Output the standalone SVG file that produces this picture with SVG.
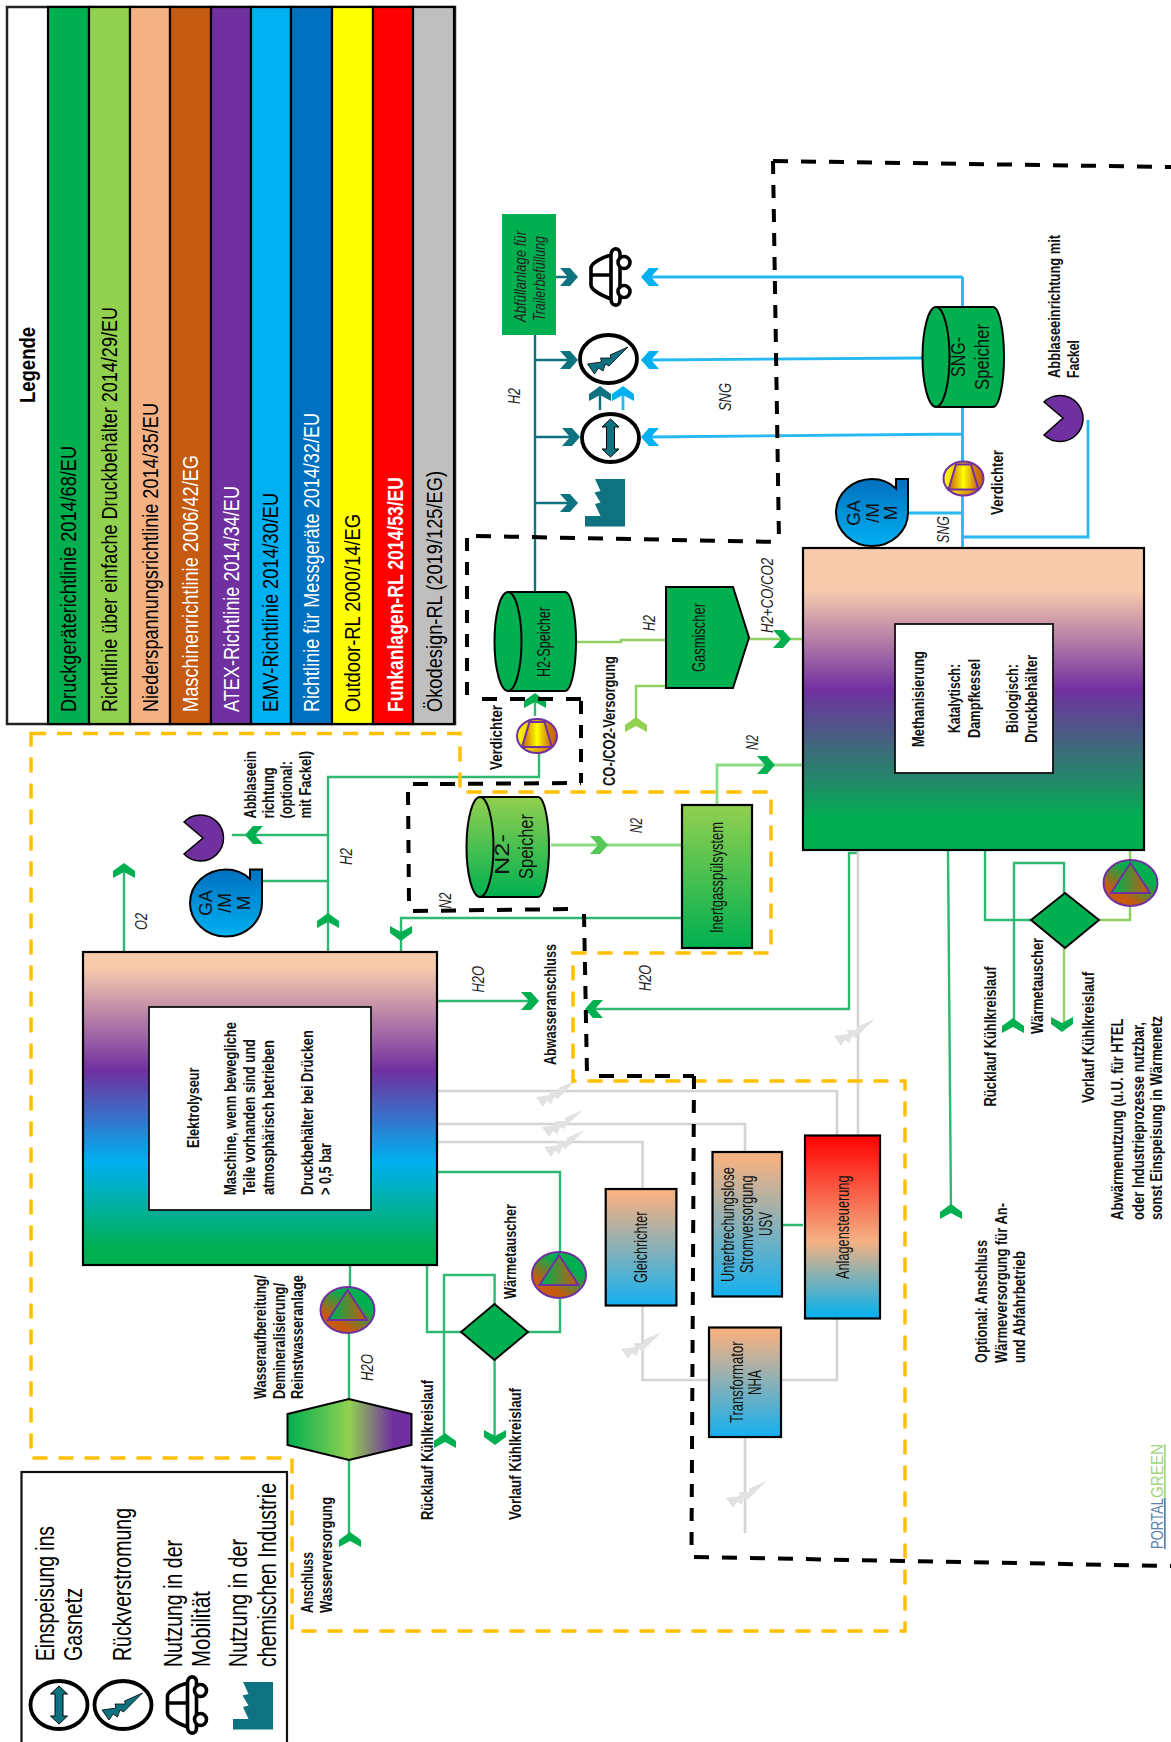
<svg xmlns="http://www.w3.org/2000/svg" xmlns:xlink="http://www.w3.org/1999/xlink" width="1171" height="1742" viewBox="0 0 1171 1742">
<style>
text{font-family:"Liberation Sans",Arial,sans-serif;fill:#000}
.l{font-size:22px}.lw{font-size:22px;fill:#fff}
.g{font-size:25px}
.b{font-size:16px;font-weight:bold;fill:#111}
.i{font-size:16px;font-style:italic;fill:#222}
.n{font-size:17.500px;fill:#111}
.c{font-size:21px;fill:#111}
.line,.teal,.sky,.lime,.grey,.mint{fill:none;stroke-width:2.4}
.line{stroke:#2EB873}.teal{stroke:#0E7280}.sky{stroke:#25B8F2;stroke-width:2.8}.lime{stroke:#8FD060}.mint{stroke:#8ADC86;stroke-width:2.800}.grey{stroke:#D4D4D4;stroke-width:2.6}
.bk{fill:none;stroke:#000;stroke-width:4}
.h{stroke-dasharray:15 13}.v{stroke-dasharray:13 11}
.or{fill:none;stroke:#FFC000;stroke-width:3.5;stroke-dasharray:15 11}
.box{stroke:#000;stroke-width:2.2}
.pm{stroke:#7030A0;stroke-width:2}
</style>
<defs>
<linearGradient id="gEl" x1="0" y1="0" x2="0" y2="1"><stop offset="0.05" stop-color="#F8CBAD"/><stop offset="0.38" stop-color="#7030A0"/><stop offset="0.67" stop-color="#00B0F0"/><stop offset="0.95" stop-color="#00B050"/></linearGradient>
<linearGradient id="gMe" x1="0" y1="0" x2="0" y2="1"><stop offset="0.14" stop-color="#F8CBAD"/><stop offset="0.47" stop-color="#7030A0"/><stop offset="0.9" stop-color="#00B050"/></linearGradient>
<linearGradient id="gN" x1="0" y1="0" x2="0" y2="1"><stop offset="0" stop-color="#92D050"/><stop offset="1" stop-color="#00B050"/></linearGradient>
<linearGradient id="gBl" x1="0" y1="0" x2="0" y2="1"><stop offset="0" stop-color="#0070C0"/><stop offset="1" stop-color="#00B0F0"/></linearGradient>
<linearGradient id="gOB" x1="0" y1="0" x2="0" y2="1"><stop offset="0.05" stop-color="#F4B183"/><stop offset="1" stop-color="#14B0F0"/></linearGradient>
<linearGradient id="gAn" x1="0" y1="0" x2="0" y2="1"><stop offset="0" stop-color="#FF0000"/><stop offset="0.58" stop-color="#F4B183"/><stop offset="1" stop-color="#00B0F0"/></linearGradient>
<linearGradient id="gHx" x1="0" y1="0" x2="1" y2="0"><stop offset="0" stop-color="#00B050"/><stop offset="0.5" stop-color="#92D050"/><stop offset="0.85" stop-color="#7030A0"/></linearGradient>
<linearGradient id="gVa" x1="0" y1="0" x2="1" y2="0"><stop offset="0" stop-color="#FFFF00"/><stop offset="1" stop-color="#C55A11"/></linearGradient>
<linearGradient id="gVb" x1="0" y1="0" x2="1" y2="0"><stop offset="0" stop-color="#C55A11"/><stop offset="0.5" stop-color="#FFFF00"/><stop offset="1" stop-color="#C55A11"/></linearGradient>
<linearGradient id="gPa" x1="0.8" y1="0.2" x2="0.3" y2="0.9"><stop offset="0.2" stop-color="#00B050"/><stop offset="0.85" stop-color="#C55A11"/></linearGradient>
<linearGradient id="gPb" x1="0" y1="0" x2="1" y2="0"><stop offset="0.1" stop-color="#00B050"/><stop offset="0.95" stop-color="#C55A11"/></linearGradient>
<path id="cU" d="M0,0 L11,8 V15 L0,9 L-11,15 V8 Z"/>
<path id="cD" d="M0,0 L11,-8 V-15 L0,-9 L-11,-15 V-8 Z"/>
<path id="cR" d="M0,0 L-8,9 H-18 L-10,0 L-18,-9 H-8 Z"/>
<path id="cL" d="M0,0 L8,9 H18 L10,0 L18,-9 H8 Z"/>
<path id="bolt" d="M19.500,-12 L1.500,-4 L2.500,-1 L-8,-1 L-7,3 L-21,5 L-14,15 L-10,9 L-5.500,12 L-3,5 L0.500,7 Z"/>
<g id="car" fill="none" stroke="#000" stroke-width="3.600"><path d="M0,-22 C-8,-20 -20,-14 -20,-9 V8 C-20,13 -8,19 0,22 M-20,-2 H1 M0,-22 C0,-30 9,-30 9,-23 V23 C9,30 0,30 0,22 Z"/><circle cx="13" cy="-14.500" r="6" fill="#fff"/><circle cx="13" cy="14.500" r="6" fill="#fff"/></g>
<g id="gasnet"><ellipse rx="28.500" ry="24" fill="#fff" stroke="#000" stroke-width="3.800"/><path d="M0,-19 L8.500,-11 H4 V11 H8.500 L0,19 L-8.500,11 H-4 V-11 H-8.500 Z" fill="#0E7280" stroke="#000" stroke-width="1"/></g>
<g id="power"><ellipse rx="28.500" ry="24" fill="#fff" stroke="#000" stroke-width="3.800"/><use xlink:href="#bolt" fill="#0E7280" stroke="#000" stroke-width="0.800"/></g>
<path id="factory" fill="#0E7280" d="M10,0 L15.500,12 L9.500,13.500 L15.500,23.500 L10,25 L15.500,37 H0 V47.500 H40 V0 Z"/>
<g id="verd"><ellipse rx="20" ry="17" fill="url(#gVa)" class="pm"/><path d="M-7.500,-14 H7.500 L15,11 H-15 Z" fill="url(#gVb)" class="pm"/></g>
<g id="pump"><ellipse rx="27" ry="23" fill="url(#gPa)" class="pm"/><path d="M0,-20 L19.500,10 H-19.500 Z" fill="url(#gPb)" class="pm"/></g>
<g id="blower"><path d="M24,-33.500 H36 V0 A36,33.500 0 1 1 0,-33.500 Q14,-33.500 24,-24 Z" fill="url(#gBl)" stroke="#000" stroke-width="2"/></g>
</defs>

<g id="connectors">
<path class="teal" d="M535,335 V592 M556,277 H570 M535,360 H572 M535,437 H574 M535,503 H572 M600,410 V392"/>
<path class="sky" d="M962.500,277 V548 M962.500,277 H648 M922,358 L648,360 M962.500,434 L648,437 M623,410 V392 M1088,420 V537 H962.500 M909,513 H962.500"/>
<path class="line" d="M539,753 V777 H328 V952 M535,716 V695 M328,835 H232 M328,881 H262 M124,952 V870 M682,918 H401 V952 M437,1001 H530 M858,853 H849 V1009 H592 M948,850 L951,1210 M985,850 V920 H1032 M1014,1024 V863 H1064 V893 M437,1172 H560 V1252 M560,1299 V1332 H528 M427,1265 V1332 H461 M444,1440 V1275 H494.600 V1304 M494.600,1360 V1437 M350,1265 V1288 M349,1333 V1399 M349,1460 V1538 M782,1225 H803"/>
<path class="lime" d="M577,642 H621 V640 H666 M749,639 H803 M666,686 H636 V726 M1064,948 V1024 M1099,920 H1130 V906 M1130,850 V860"/>
<path class="mint" d="M551,845 H682 M717,805 V765 H803"/>
<path class="grey" d="M858,850 V1136 M437,1091 H837 V1136 M437,1124 H745 V1152 M437,1142 H642.500 V1189 M642.500,1305 V1380 H709 M781,1380 H837 V1318 M745,1437 V1533"/>
<g fill="#0E7280"><use xlink:href="#cR" x="578" y="277"/><use xlink:href="#cR" x="578" y="360"/><use xlink:href="#cR" x="580" y="437"/><use xlink:href="#cR" x="578" y="503"/><use xlink:href="#cU" x="600" y="386"/></g>
<g fill="#00B0F0"><use xlink:href="#cL" x="641" y="277"/><use xlink:href="#cL" x="641" y="360"/><use xlink:href="#cL" x="641" y="437"/><use xlink:href="#cU" x="623" y="386"/></g>
<g fill="#00B050"><use xlink:href="#cU" x="124" y="863"/><use xlink:href="#cU" x="328" y="913"/><use xlink:href="#cL" x="245" y="835"/><use xlink:href="#cD" x="401" y="941"/><use xlink:href="#cR" x="539" y="1001"/><use xlink:href="#cU" x="535" y="693"/><use xlink:href="#cR" x="791" y="639"/><use xlink:href="#cR" x="775" y="765"/><use xlink:href="#cL" x="585" y="1009"/><use xlink:href="#cU" x="951" y="1204"/><use xlink:href="#cU" x="1013" y="1018"/><use xlink:href="#cD" x="1062" y="1032"/><use xlink:href="#cU" x="445" y="1433"/><use xlink:href="#cD" x="495" y="1445"/><use xlink:href="#cU" x="350" y="1532"/></g>
<use xlink:href="#cR" x="608" y="845" fill="#56C856"/>
<use xlink:href="#cU" x="636" y="717" fill="#92D050"/>
<g fill="#E2E2E2"><use xlink:href="#bolt" x="855" y="1031"/><use xlink:href="#bolt" x="557" y="1092"/><use xlink:href="#bolt" x="563" y="1122"/><use xlink:href="#bolt" x="565" y="1142"/><use xlink:href="#bolt" x="642" y="1344"/><use xlink:href="#bolt" x="747" y="1493"/></g>
</g>

<g id="legend-top">
<rect x="7" y="7" width="448" height="717" fill="#fff" stroke="#222" stroke-width="2.500"/>
<g class="box">
<rect x="48" y="7" width="41" height="717" fill="#00B050"/><rect x="89" y="7" width="41" height="717" fill="#92D050"/><rect x="130" y="7" width="40" height="717" fill="#F4B183"/><rect x="170" y="7" width="41" height="717" fill="#C55A11"/><rect x="211" y="7" width="40" height="717" fill="#7030A0"/><rect x="251" y="7" width="40" height="717" fill="#00B0F0"/><rect x="291" y="7" width="41" height="717" fill="#0070C0"/><rect x="332" y="7" width="41" height="717" fill="#FFFF00"/><rect x="373" y="7" width="40" height="717" fill="#FF0000"/><rect x="413" y="7" width="41" height="717" fill="#BFBFBF"/>
</g>
<text class="l" font-weight="bold" transform="translate(35,403) rotate(-90)" textLength="76" lengthAdjust="spacingAndGlyphs">Legende</text>
<text class="l" transform="translate(76,712) rotate(-90)" textLength="266" lengthAdjust="spacingAndGlyphs">Druckgeräterichtlinie 2014/68/EU</text>
<text class="l" transform="translate(117,712) rotate(-90)" textLength="405" lengthAdjust="spacingAndGlyphs">Richtlinie über einfache Druckbehälter 2014/29/EU</text>
<text class="l" transform="translate(158,712) rotate(-90)" textLength="309" lengthAdjust="spacingAndGlyphs">Niederspannungsrichtlinie 2014/35/EU</text>
<text class="lw" transform="translate(198,712) rotate(-90)" textLength="257" lengthAdjust="spacingAndGlyphs">Maschinenrichtlinie 2006/42/EG</text>
<text class="lw" transform="translate(239,712) rotate(-90)" textLength="226" lengthAdjust="spacingAndGlyphs">ATEX-Richtlinie 2014/34/EU</text>
<text class="l" transform="translate(278,712) rotate(-90)" textLength="219" lengthAdjust="spacingAndGlyphs">EMV-Richtlinie 2014/30/EU</text>
<text class="lw" transform="translate(319,712) rotate(-90)" textLength="299" lengthAdjust="spacingAndGlyphs">Richtlinie für Messgeräte 2014/32/EU</text>
<text class="l" transform="translate(360,712) rotate(-90)" textLength="198" lengthAdjust="spacingAndGlyphs">Outdoor-RL 2000/14/EG</text>
<text class="lw" font-weight="bold" transform="translate(403,712) rotate(-90)" textLength="235" lengthAdjust="spacingAndGlyphs">Funkanlagen-RL 2014/53/EU</text>
<text class="l" fill="#222" transform="translate(442,712) rotate(-90)" textLength="241" lengthAdjust="spacingAndGlyphs">Ökodesign-RL (2019/125/EG)</text>
</g>

<g id="legend-bottom">
<rect x="21.500" y="1472" width="265.500" height="290" fill="#fff" stroke="#111" stroke-width="2.200"/>
<use xlink:href="#gasnet" x="59" y="1705"/><use xlink:href="#power" x="123" y="1705"/><use xlink:href="#car" x="187.500" y="1705"/><use xlink:href="#factory" x="233" y="1682"/>
<text class="g" transform="translate(53.500,1661) rotate(-90)" textLength="135" lengthAdjust="spacingAndGlyphs">Einspeisung ins</text>
<text class="g" transform="translate(82,1661) rotate(-90)" textLength="73" lengthAdjust="spacingAndGlyphs">Gasnetz</text>
<text class="g" transform="translate(131,1661) rotate(-90)" textLength="153" lengthAdjust="spacingAndGlyphs">Rückverstromung</text>
<text class="g" transform="translate(182,1667) rotate(-90)" textLength="127" lengthAdjust="spacingAndGlyphs">Nutzung in der</text>
<text class="g" transform="translate(210,1667) rotate(-90)" textLength="76" lengthAdjust="spacingAndGlyphs">Mobilität</text>
<text class="g" transform="translate(247,1667) rotate(-90)" textLength="128" lengthAdjust="spacingAndGlyphs">Nutzung in der</text>
<text class="g" transform="translate(276,1667) rotate(-90)" textLength="184" lengthAdjust="spacingAndGlyphs">chemischen Industrie</text>
</g>

<g id="node-abfuell"><rect x="502" y="214" width="54" height="121" fill="#00B050"/>
<text class="i" transform="translate(526,322) rotate(-90)" textLength="91" lengthAdjust="spacingAndGlyphs">Abfüllanlage  für</text>
<text class="i" transform="translate(545,321) rotate(-90)" textLength="85" lengthAdjust="spacingAndGlyphs">Trailerbefüllung</text></g>
<use id="node-car" xlink:href="#car" x="611" y="277"/>
<use id="node-power" xlink:href="#power" x="608.500" y="359"/>
<use id="node-gasnet" xlink:href="#gasnet" x="610.500" y="438"/>
<use id="node-factory" xlink:href="#factory" x="585" y="479"/>

<g id="node-sng-speicher"><path d="M936,307 H993 A11,50 0 0 1 993,407 H936 A13.500,50 0 0 1 936,307 A13.500,50 0 0 1 936,407" fill="#00B050" stroke="#000" stroke-width="2"/>
<text class="c" transform="translate(965,377) rotate(-90)" textLength="40" lengthAdjust="spacingAndGlyphs">SNG-</text>
<text class="c" transform="translate(989,390) rotate(-90)" textLength="66" lengthAdjust="spacingAndGlyphs">Speicher</text></g>
<g id="node-verdichter-2"><use xlink:href="#verd" x="963.500" y="478.500"/><text class="b" transform="translate(1003,515) rotate(-90)" textLength="65" lengthAdjust="spacingAndGlyphs">Verdichter</text></g>
<g id="node-blower-2"><use xlink:href="#blower" x="872" y="512.500"/>
<text class="n" text-anchor="middle" transform="translate(860,513) rotate(-90)">GA</text><text class="n" text-anchor="middle" transform="translate(879,513) rotate(-90)">/M</text><text class="n" text-anchor="middle" transform="translate(897,513) rotate(-90)">M</text></g>
<g id="node-flare-2"><path d="M1044,402 L1063,418 L1044,435 A23,23 0 1 0 1044,402 Z" fill="#7030A0" stroke="#000" stroke-width="1.500"/>
<text class="b" transform="translate(1060,378) rotate(-90)" textLength="143" lengthAdjust="spacingAndGlyphs">Abblaseeinrichtung mit</text>
<text class="b" transform="translate(1079,378) rotate(-90)" textLength="38" lengthAdjust="spacingAndGlyphs">Fackel</text></g>

<g id="node-methan"><rect x="803" y="548" width="341" height="302" fill="url(#gMe)" class="box"/>
<rect x="895" y="624" width="158" height="149" fill="#fff" stroke="#111" stroke-width="1.800"/>
<text class="b" transform="translate(924,747) rotate(-90)" textLength="96" lengthAdjust="spacingAndGlyphs">Methanisierung</text>
<text class="b" transform="translate(960,733) rotate(-90)" textLength="69" lengthAdjust="spacingAndGlyphs">Katalytisch:</text>
<text class="b" transform="translate(980,738) rotate(-90)" textLength="79" lengthAdjust="spacingAndGlyphs">Dampfkessel</text>
<text class="b" transform="translate(1018,733) rotate(-90)" textLength="69" lengthAdjust="spacingAndGlyphs">Biologisch:</text>
<text class="b" transform="translate(1037,743) rotate(-90)" textLength="88" lengthAdjust="spacingAndGlyphs">Druckbehälter</text></g>

<g id="node-h2-speicher"><path d="M508,592 H565 A11,49.500 0 0 1 565,691 H508 A13.500,49.500 0 0 1 508,592 A13.500,49.500 0 0 1 508,691" fill="#00B050" stroke="#000" stroke-width="2"/>
<text class="n" transform="translate(550,677) rotate(-90)" textLength="70" lengthAdjust="spacingAndGlyphs">H2-Speicher</text></g>
<g id="node-verdichter-1"><use xlink:href="#verd" x="537" y="736"/><text class="b" transform="translate(502,770) rotate(-90)" textLength="65" lengthAdjust="spacingAndGlyphs">Verdichter</text></g>
<g id="node-gasmischer"><path d="M666,587 H733 L749,637.500 L733,688 H666 Z" fill="#00B050" stroke="#000" stroke-width="2"/>
<text class="n" transform="translate(705,672) rotate(-90)" textLength="69" lengthAdjust="spacingAndGlyphs">Gasmischer</text></g>
<g id="node-n2-speicher"><path d="M480,797 H538 A11,50 0 0 1 538,897 H480 A13.500,50 0 0 1 480,797 A13.500,50 0 0 1 480,897" fill="url(#gN)" stroke="#000" stroke-width="2"/>
<text class="c" transform="translate(509,875) rotate(-90)" textLength="41" lengthAdjust="spacingAndGlyphs">N2-</text>
<text class="c" transform="translate(532.500,879) rotate(-90)" textLength="65" lengthAdjust="spacingAndGlyphs">Speicher</text></g>
<g id="node-inert"><rect x="682" y="805" width="70" height="143" fill="url(#gN)" class="box"/>
<text class="n" transform="translate(723,933) rotate(-90)" textLength="111" lengthAdjust="spacingAndGlyphs">Inertgasspülsystem</text></g>

<g id="node-ww-oben"><path d="M1031,920 L1065,893 L1099,920 L1065,948 Z" fill="#00B050" stroke="#000" stroke-width="2"/>
<use xlink:href="#pump" x="1130.500" y="883"/>
<text class="b" transform="translate(1043,1034) rotate(-90)" textLength="96" lengthAdjust="spacingAndGlyphs">Wärmetauscher</text></g>

<g id="node-elektrolyseur"><rect x="83" y="952" width="354" height="313" fill="url(#gEl)" class="box"/>
<rect x="149" y="1007" width="222" height="203" fill="#fff" stroke="#111" stroke-width="1.800"/>
<text class="b" transform="translate(198.500,1148) rotate(-90)" textLength="80.500" lengthAdjust="spacingAndGlyphs">Elektrolyseur</text>
<text class="b" transform="translate(236,1195) rotate(-90)" textLength="173" lengthAdjust="spacingAndGlyphs">Maschine, wenn bewegliche</text>
<text class="b" transform="translate(255,1195) rotate(-90)" textLength="156" lengthAdjust="spacingAndGlyphs">Teile vorhanden sind und</text>
<text class="b" transform="translate(274,1195) rotate(-90)" textLength="155" lengthAdjust="spacingAndGlyphs">atmosphärisch  betrieben</text>
<text class="b" transform="translate(313,1195) rotate(-90)" textLength="165" lengthAdjust="spacingAndGlyphs">Druckbehälter bei Drücken</text>
<text class="b" transform="translate(331,1195) rotate(-90)" textLength="52" lengthAdjust="spacingAndGlyphs">&gt; 0,5 bar</text></g>
<g id="node-blower-1"><use xlink:href="#blower" x="226" y="903"/>
<text class="n" text-anchor="middle" transform="translate(212,903) rotate(-90)">GA</text><text class="n" text-anchor="middle" transform="translate(231,903) rotate(-90)">/M</text><text class="n" text-anchor="middle" transform="translate(250,903) rotate(-90)">M</text></g>
<g id="node-flare-1"><path d="M184,822 L203,838 L184,854 A23,23 0 1 0 184,822 Z" fill="#7030A0" stroke="#000" stroke-width="1.500"/>
<text class="b" transform="translate(256,818.500) rotate(-90)" textLength="67.500" lengthAdjust="spacingAndGlyphs">Abblaseein</text>
<text class="b" transform="translate(274,818.500) rotate(-90)" textLength="51" lengthAdjust="spacingAndGlyphs">richtung</text>
<text class="b" transform="translate(292,818.500) rotate(-90)" textLength="57.500" lengthAdjust="spacingAndGlyphs">(optional:</text>
<text class="b" transform="translate(311,818.500) rotate(-90)" textLength="67.500" lengthAdjust="spacingAndGlyphs">mit Fackel)</text></g>
<g id="node-ww-unten"><path d="M461,1332 L494.500,1304 L528,1332 L494.500,1360 Z" fill="#00B050" stroke="#000" stroke-width="2"/>
<use xlink:href="#pump" x="559" y="1275"/>
<text class="b" transform="translate(516,1299) rotate(-90)" textLength="95" lengthAdjust="spacingAndGlyphs">Wärmetauscher</text></g>
<g id="node-wasser"><use xlink:href="#pump" x="347.500" y="1310"/><path d="M287.500,1414 L349,1399 L411.500,1414 V1445 L349,1460 L287.500,1445 Z" fill="url(#gHx)" stroke="#000" stroke-width="2"/>
<text class="b" transform="translate(266,1399) rotate(-90)" textLength="124" lengthAdjust="spacingAndGlyphs">Wasseraufbereitung/</text>
<text class="b" transform="translate(284.500,1399) rotate(-90)" textLength="116" lengthAdjust="spacingAndGlyphs">Demineralisierung/</text>
<text class="b" transform="translate(303,1399) rotate(-90)" textLength="124" lengthAdjust="spacingAndGlyphs">Reinstwasseranlage</text></g>
<g id="node-gleichrichter"><rect x="605.700" y="1189" width="70.700" height="116.500" fill="url(#gOB)" class="box"/>
<text class="n" transform="translate(646.500,1283) rotate(-90)" textLength="71.500" lengthAdjust="spacingAndGlyphs">Gleichrichter</text></g>
<g id="node-usv"><rect x="712.500" y="1152" width="69.500" height="144.500" fill="url(#gOB)" class="box"/>
<text class="n" transform="translate(733.500,1282) rotate(-90)" textLength="115" lengthAdjust="spacingAndGlyphs">Unterbrechungslose</text>
<text class="n" transform="translate(753,1273) rotate(-90)" textLength="97.500" lengthAdjust="spacingAndGlyphs">Stromversorgung</text>
<text class="n" transform="translate(772,1236) rotate(-90)" textLength="24" lengthAdjust="spacingAndGlyphs">USV</text></g>
<g id="node-anlagen"><rect x="805" y="1135.500" width="75" height="183" fill="url(#gAn)" class="box"/>
<text class="n" transform="translate(849,1279) rotate(-90)" textLength="103.500" lengthAdjust="spacingAndGlyphs">Anlagensteuerung</text></g>
<g id="node-trafo"><rect x="709" y="1327.500" width="72" height="109.500" fill="url(#gOB)" class="box"/>
<text class="n" transform="translate(742.500,1423) rotate(-90)" textLength="81.500" lengthAdjust="spacingAndGlyphs">Transformator</text>
<text class="n" transform="translate(761,1395) rotate(-90)" textLength="25" lengthAdjust="spacingAndGlyphs">NHA</text></g>

<g id="labels">
<text class="i" transform="translate(520,404) rotate(-90)" textLength="16" lengthAdjust="spacingAndGlyphs">H2</text>
<text class="i" transform="translate(731,411) rotate(-90)" textLength="28" lengthAdjust="spacingAndGlyphs">SNG</text>
<text class="i" transform="translate(949,543) rotate(-90)" textLength="27" lengthAdjust="spacingAndGlyphs">SNG</text>
<text class="i" transform="translate(655,631) rotate(-90)" textLength="16" lengthAdjust="spacingAndGlyphs">H2</text>
<text class="i" transform="translate(773,633) rotate(-90)" textLength="75" lengthAdjust="spacingAndGlyphs">H2+CO/CO2</text>
<text class="b" transform="translate(615,786) rotate(-90)" textLength="130" lengthAdjust="spacingAndGlyphs">CO-/CO2-Versorgung</text>
<text class="i" transform="translate(642,833) rotate(-90)" textLength="15" lengthAdjust="spacingAndGlyphs">N2</text>
<text class="i" transform="translate(758,750) rotate(-90)" textLength="15" lengthAdjust="spacingAndGlyphs">N2</text>
<text class="i" transform="translate(147,930) rotate(-90)" textLength="17" lengthAdjust="spacingAndGlyphs">O2</text>
<text class="i" transform="translate(352,865) rotate(-90)" textLength="17" lengthAdjust="spacingAndGlyphs">H2</text>
<text class="i" transform="translate(451,908.500) rotate(-90)" textLength="16" lengthAdjust="spacingAndGlyphs">N2</text>
<text class="i" transform="translate(483.500,992.500) rotate(-90)" textLength="26.500" lengthAdjust="spacingAndGlyphs">H2O</text>
<text class="i" transform="translate(650.500,991) rotate(-90)" textLength="26" lengthAdjust="spacingAndGlyphs">H2O</text>
<text class="i" transform="translate(373,1381) rotate(-90)" textLength="27" lengthAdjust="spacingAndGlyphs">H2O</text>
<text class="b" transform="translate(556,1065) rotate(-90)" textLength="121" lengthAdjust="spacingAndGlyphs">Abwasseranschluss</text>
<text class="b" transform="translate(996,1106.500) rotate(-90)" textLength="140" lengthAdjust="spacingAndGlyphs">Rücklauf Kühlkreislauf</text>
<text class="b" transform="translate(1094,1103) rotate(-90)" textLength="131" lengthAdjust="spacingAndGlyphs">Vorlauf Kühlkreislauf</text>
<text class="b" transform="translate(1123,1220) rotate(-90)" textLength="201.500" lengthAdjust="spacingAndGlyphs">Abwärmenutzung  (u.U. für HTEL</text>
<text class="b" transform="translate(1143.500,1220) rotate(-90)" textLength="198" lengthAdjust="spacingAndGlyphs">oder Industrieprozesse nutzbar,</text>
<text class="b" transform="translate(1162,1220) rotate(-90)" textLength="204" lengthAdjust="spacingAndGlyphs">sonst Einspeisung in Wärmenetz</text>
<text class="b" transform="translate(987,1363) rotate(-90)" textLength="123" lengthAdjust="spacingAndGlyphs">Optional: Anschluss</text>
<text class="b" transform="translate(1006.500,1363) rotate(-90)" textLength="160" lengthAdjust="spacingAndGlyphs">Wärmeversorgung für An-</text>
<text class="b" transform="translate(1025,1363) rotate(-90)" textLength="112" lengthAdjust="spacingAndGlyphs">und Abfahrbetrieb</text>
<text class="b" transform="translate(433,1520) rotate(-90)" textLength="140" lengthAdjust="spacingAndGlyphs">Rücklauf Kühlkreislauf</text>
<text class="b" transform="translate(521,1520) rotate(-90)" textLength="132" lengthAdjust="spacingAndGlyphs">Vorlauf Kühlkreislauf</text>
<text class="b" transform="translate(312.500,1613) rotate(-90)" textLength="61" lengthAdjust="spacingAndGlyphs">Anschluss</text>
<text class="b" transform="translate(332,1613) rotate(-90)" textLength="116" lengthAdjust="spacingAndGlyphs">Wasserversorgung</text>
<text font-size="17" style="fill:#5B80AC" text-decoration="underline" transform="translate(1163,1549) rotate(-90)" textLength="51" lengthAdjust="spacingAndGlyphs">PORTAL</text>
<text font-size="17" style="fill:#A4D67E" text-decoration="underline" transform="translate(1163,1498) rotate(-90)" textLength="54" lengthAdjust="spacingAndGlyphs">GREEN</text>
</g>

<g id="boundaries">
<path class="or" d="M31,733.500 H460 V792 H771 V953 H573 V1081 H905 V1631 H292 V1458 H31 Z"/>
<path class="bk h" d="M773,161 L1171,167 M476,536 L779,542 M482,699 H581 M440,784 L581,783 M413,784 H440 M413,911 L575,909 M599,1076 H694 M694,1557 L1171,1566"/>
<path class="bk v" d="M773,161 L779,542 M467,538 V700 M581,701 V783 M408,792 L409,903 M584,914 L587,1074 M694,1076 L691.500,1548"/>
</g>
</svg>
